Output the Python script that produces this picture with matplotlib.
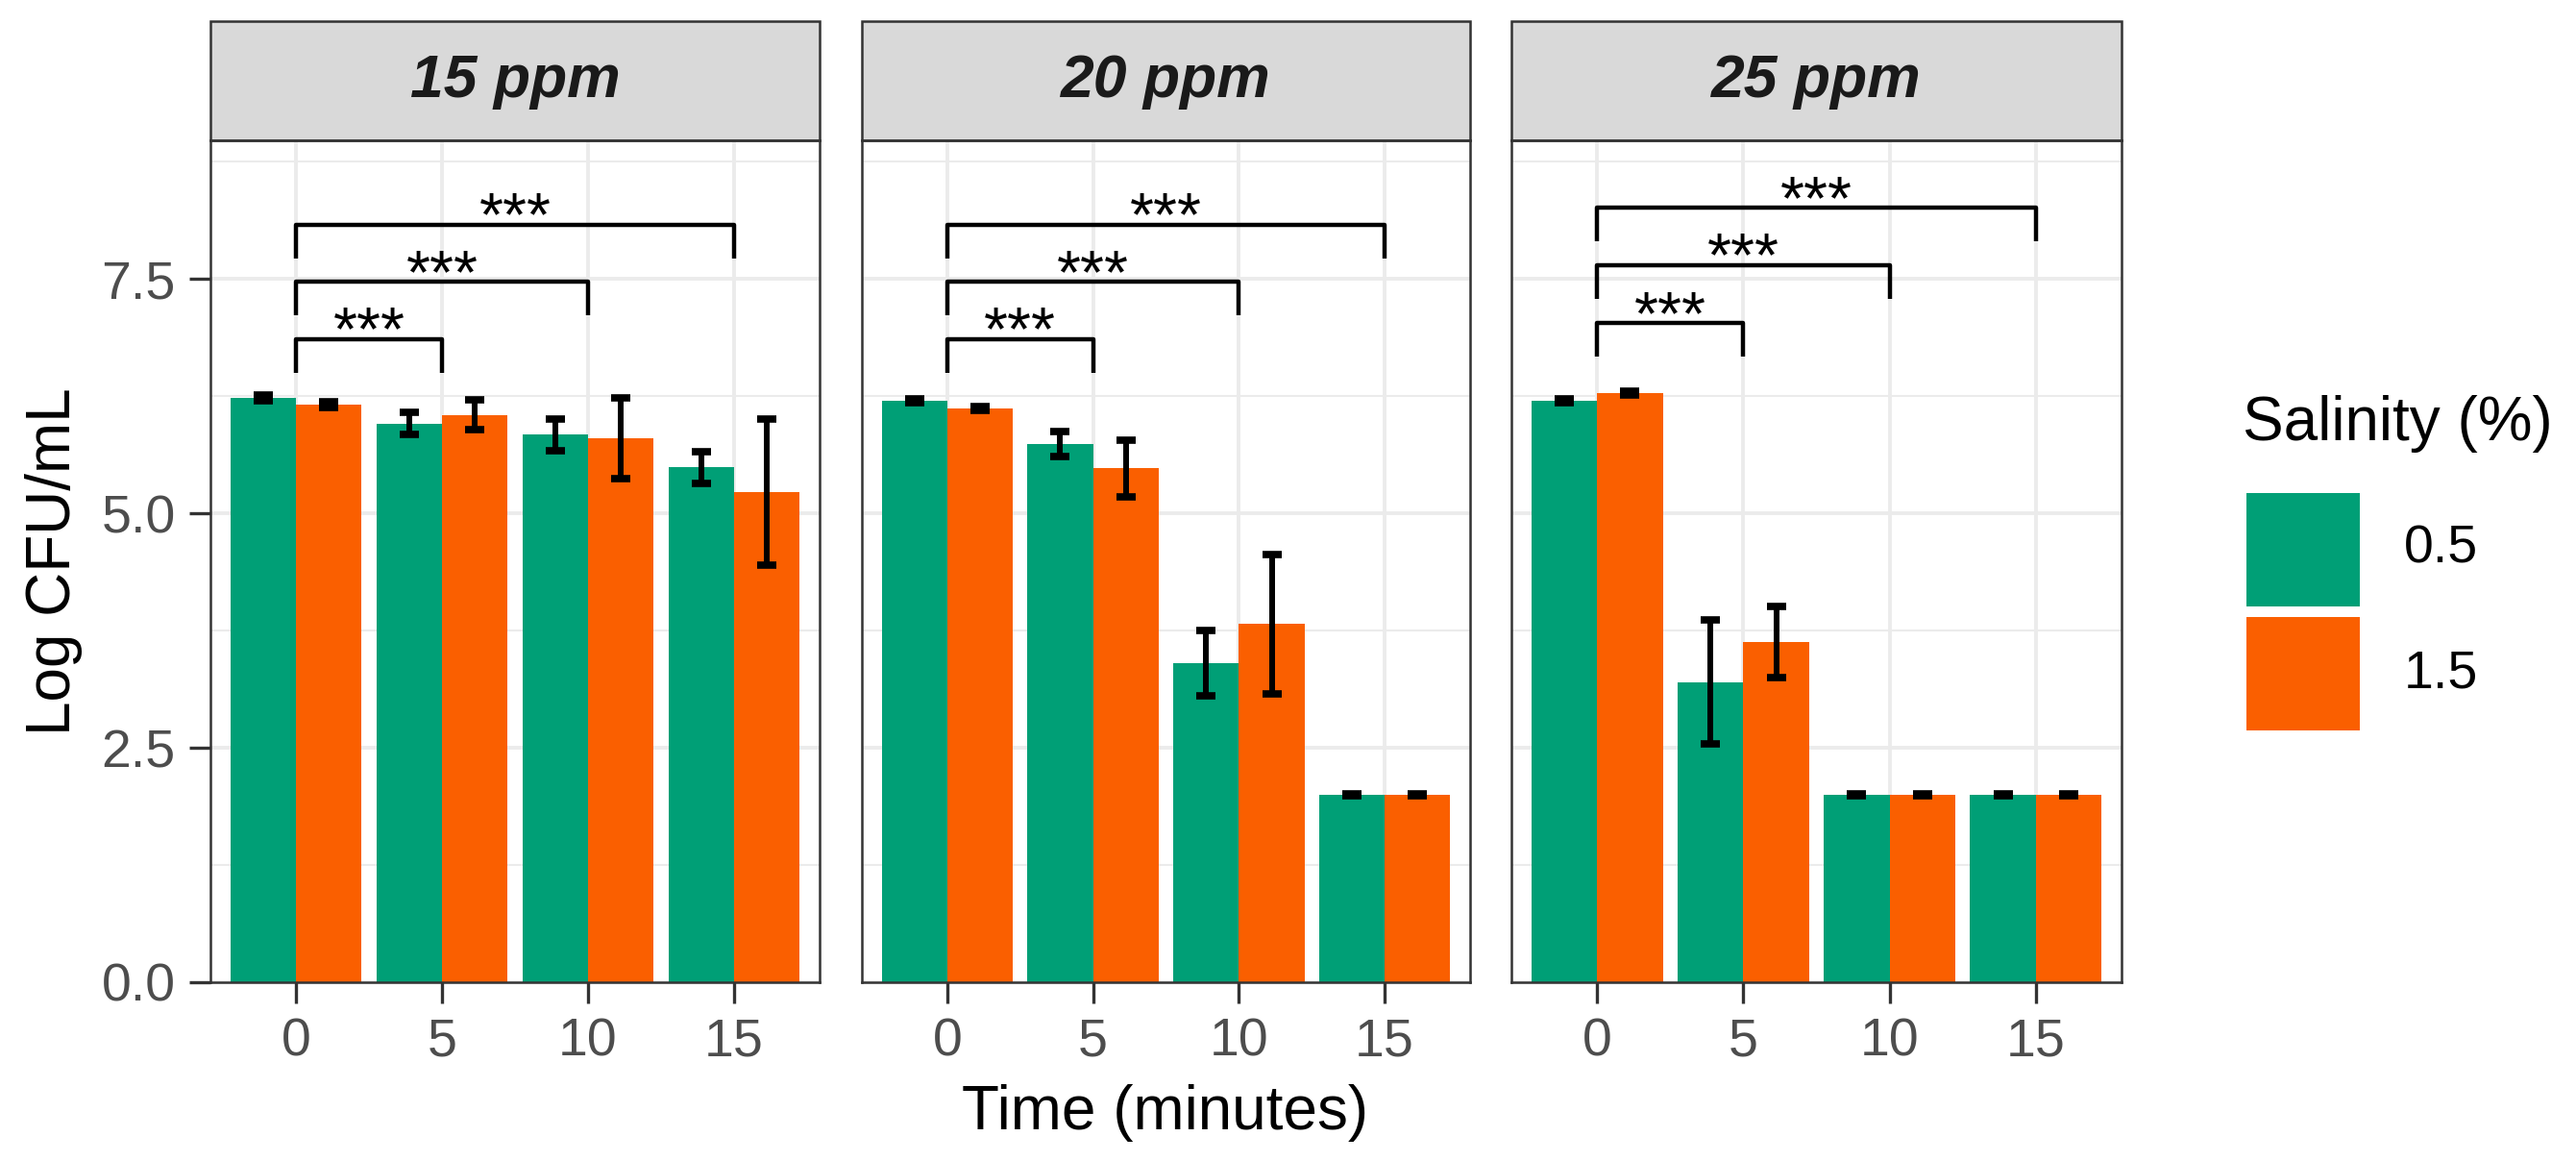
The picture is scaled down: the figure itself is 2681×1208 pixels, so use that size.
import matplotlib
matplotlib.use("Agg")
import matplotlib.pyplot as plt
from matplotlib.patches import Rectangle
import numpy as np

plt.rcParams['font.family'] = ['Liberation Sans', 'DejaVu Sans']

# --- data ---
times = [0, 5, 10, 15]
panel_titles = ['15 ppm', '20 ppm', '25 ppm']
salinity_labels = ['0.5', '1.5']

mean_sal05 = [[6.23, 5.96, 5.84, 5.49],
              [6.20, 5.74, 3.40, 2.00],
              [6.20, 3.20, 2.00, 2.00]]
sd_sal05 = [[0.03, 0.12, 0.17, 0.17],
            [0.02, 0.13, 0.35, 0.01],
            [0.02, 0.66, 0.01, 0.01]]
mean_sal15 = [[6.16, 6.05, 5.80, 5.23],
              [6.12, 5.48, 3.82, 2.00],
              [6.28, 3.63, 2.00, 2.00]]
sd_sal15 = [[0.03, 0.16, 0.43, 0.78],
            [0.02, 0.30, 0.74, 0.01],
            [0.02, 0.38, 0.01, 0.01]]

# significance brackets: (start time, end time) and bracket heights per panel
bracket_pairs = [(0, 5), (0, 10), (0, 15)]
bracket_heights = [[6.86, 7.47, 8.08],
                   [6.86, 7.47, 8.08],
                   [7.03, 7.65, 8.26]]
bracket_labels = ['***', '***', '***']

green = '#009F76'
orange = '#FA5F00'
dark = '#333333'

W, H = 2681, 1208
fig = plt.figure(figsize=(W / 100, H / 100), dpi=100)

panel_x = [(219, 853), (897, 1530), (1573, 2208)]
top, bottom = 146, 1022
strip_top = 22
bar_w = 2.25
x = np.array(times, dtype=float)

for i, (x0, x1) in enumerate(panel_x):
    ax = fig.add_axes([x0 / W, 1 - bottom / H, (x1 - x0) / W, (bottom - top) / H])
    ax.set_xlim(-2.93, 17.93)
    ax.set_ylim(0, 8.98)

    ax.set_yticks([0, 2.5, 5, 7.5])
    ax.set_yticks([1.25, 3.75, 6.25, 8.75], minor=True)
    ax.set_xticks(times)
    ax.set_axisbelow(True)
    ax.grid(which='major', color='#EBEBEB', lw=2.8)
    ax.grid(which='minor', axis='y', color='#EBEBEB', lw=1.5)

    ax.bar(x - bar_w / 2, mean_sal05[i], width=bar_w, color=green, lw=0)
    ax.bar(x + bar_w / 2, mean_sal15[i], width=bar_w, color=orange, lw=0)
    ax.errorbar(x - bar_w / 2, mean_sal05[i], yerr=sd_sal05[i], fmt='none',
                ecolor='black', elinewidth=4.3, capsize=7, capthick=5.5)
    ax.errorbar(x + bar_w / 2, mean_sal15[i], yerr=sd_sal15[i], fmt='none',
                ecolor='black', elinewidth=4.3, capsize=7, capthick=5.5)

    # brackets
    for (t0, t1), yb, lab in zip(bracket_pairs, bracket_heights[i], bracket_labels):
        ax.plot([t0, t0, t1, t1], [yb - 0.36, yb, yb, yb - 0.36],
                color='black', lw=3.2, solid_capstyle='butt', solid_joinstyle='round')
        ax.text((t0 + t1) / 2, yb - 0.12, lab, ha='center', va='baseline',
                fontsize=46, color='black')

    for sp in ax.spines.values():
        sp.set_color(dark)
        sp.set_linewidth(1.8)

    ax.tick_params(axis='x', which='major', length=16, width=2.4, color=dark,
                   labelsize=40, labelcolor='#4D4D4D', pad=10)
    ax.tick_params(which='minor', length=0)
    if i == 0:
        ax.tick_params(axis='y', which='major', length=16, width=2.4, color=dark,
                       labelsize=40, labelcolor='#4D4D4D', pad=10)
        ax.set_yticklabels(['0.0', '2.5', '5.0', '7.5'])
    else:
        ax.tick_params(axis='y', which='major', length=0, labelleft=False)

    # facet strip
    strip_h = (top - strip_top) / (bottom - top)
    ax.add_patch(Rectangle((0, 1), 1, strip_h, transform=ax.transAxes, clip_on=False,
                           facecolor='#D9D9D9', edgecolor=dark, lw=1.8))
    ax.text(0.5, 1 + strip_h / 2, panel_titles[i], transform=ax.transAxes,
            ha='center', va='center', fontsize=45, fontweight='bold',
            fontstyle='italic', color='#1A1A1A')

# axis titles
fig.text(56 / W, 1 - (top + bottom) / 2 / H, 'Log CFU/mL', rotation=90,
         ha='center', va='center', fontsize=46)
fig.text(1213 / W, 1 - 1158 / H, 'Time (minutes)', ha='center', va='center',
         fontsize=46)

# legend
fig.text(2334 / W, 1 - 441 / H, 'Salinity (%)', ha='left', va='center', fontsize=46)
key_tops = [513, 642]
for col, lab, kt in zip([green, orange], salinity_labels, key_tops):
    fig.patches.append(Rectangle((2338 / W, 1 - (kt + 118) / H), 118 / W, 118 / H,
                                 transform=fig.transFigure, facecolor=col,
                                 edgecolor='none'))
    fig.text(2502 / W, 1 - (kt + 59) / H, lab, ha='left', va='center', fontsize=40)

fig.savefig('out.png', dpi=100, facecolor='white')
